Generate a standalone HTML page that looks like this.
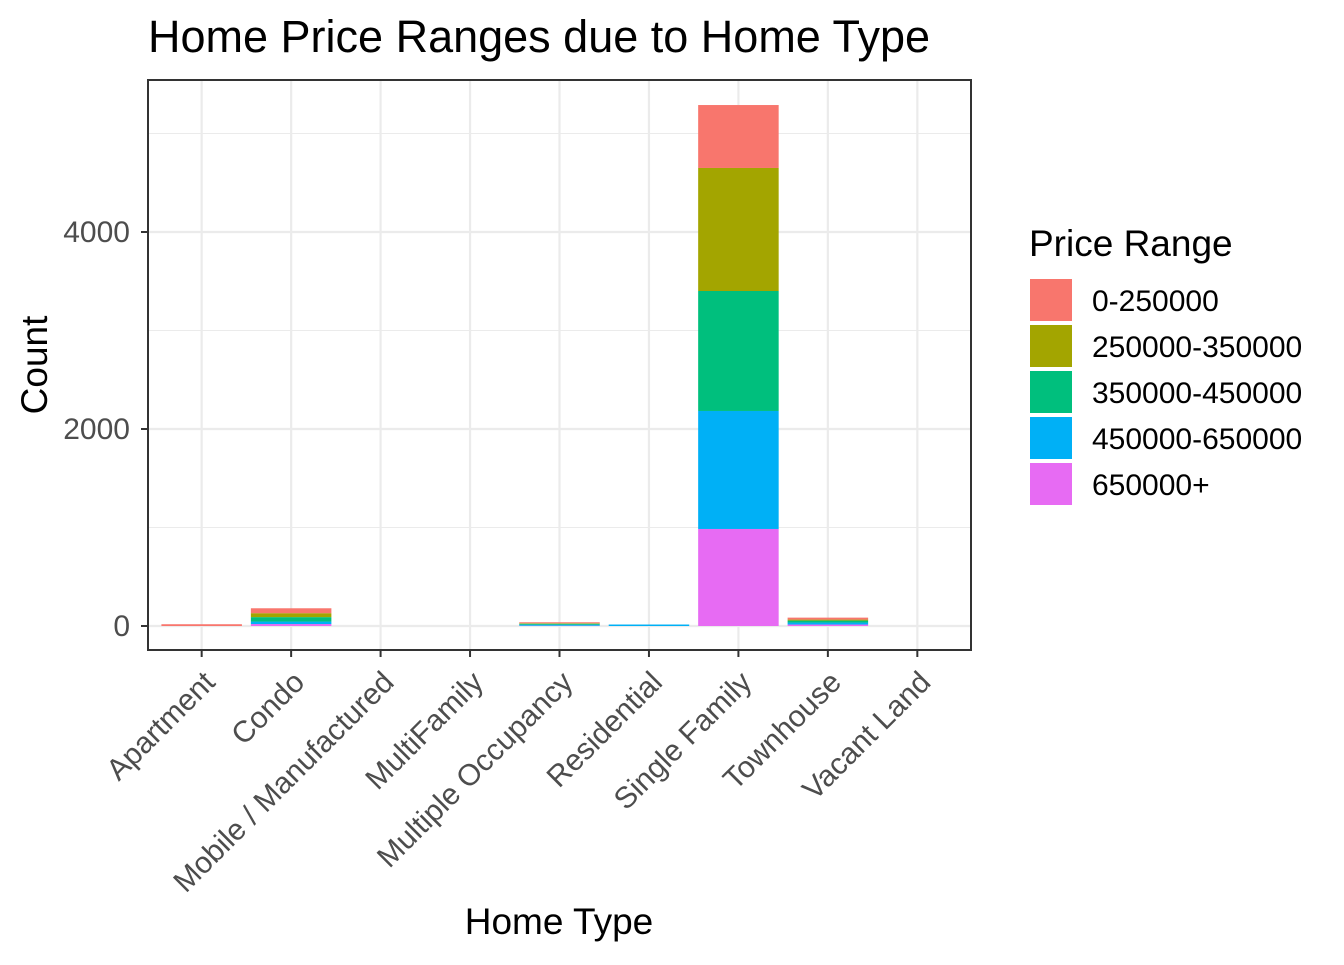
<!DOCTYPE html>
<html><head><meta charset="utf-8"><style>
body{margin:0;background:#fff;}
svg text{font-family:"Liberation Sans",Arial,sans-serif;}
</style></head><body>
<svg id="chart" width="1344" height="960" xmlns="http://www.w3.org/2000/svg">
<text x="148" y="52" font-size="45" fill="#000">Home Price Ranges due to Home Type</text>
<g id="grid"></g><g id="bars"></g><g id="axes"></g><g id="legend"></g>
</svg>
<script>
const categories=["Apartment","Condo","Mobile / Manufactured","MultiFamily","Multiple Occupancy","Residential","Single Family","Townhouse","Vacant Land"];
const seriesNames=["0-250000","250000-350000","350000-450000","450000-650000","650000+"];
const s0=[18,50,0,0,10,0,639,20,0];
const s1=[0,40,0,0,5,0,1249,10,0];
const s2=[0,45,0,0,10,0,1218,20,0];
const s3=[0,25,0,0,10,15,1198,20,0];
const s4=[0,20,0,0,3,0,985,15,0];
const yTicks=[0,2000,4000];
const colors=["#F8766D","#A3A500","#00BF7D","#00B0F6","#E76BF3"];
const series=[s0,s1,s2,s3,s4];
const NS="http://www.w3.org/2000/svg";
const L=148,R=971,T=80,B=650;
const y=v=>626-v*0.0985;
const step=(R-L)/(categories.length+0.2);
const x=i=>L+step*(0.6+i);
function mk(t,a,p){const e=document.createElementNS(NS,t);for(const k in a)e.setAttribute(k,a[k]);p.appendChild(e);return e;}
const g=document.getElementById('grid'),bg=document.getElementById('bars'),ax=document.getElementById('axes'),lg=document.getElementById('legend');
mk('rect',{x:L,y:T,width:R-L,height:B-T,fill:'#fff'},g);
mk('line',{x1:L,x2:R,y1:y(5000),y2:y(5000),stroke:'#EBEBEB','stroke-width':1.1},g);
for(let k=0;k<yTicks.length;k++){const v=yTicks[k];
 const l=mk('line',{x1:L,x2:R,y1:y(v),y2:y(v),stroke:'#EBEBEB','stroke-width':2.2},g);
 
 
 if(k<yTicks.length-1){const m=mk('line',{x1:L,x2:R,y1:y(v+1000),y2:y(v+1000),stroke:'#EBEBEB','stroke-width':1.1},g);
  
  }
 const t=mk('text',{x:130,y:y(v)+10,'font-size':30,'text-anchor':'end',fill:'#4D4D4D'},ax);t.textContent=v;
 
 
 mk('line',{x1:141,x2:L,y1:y(v),y2:y(v),stroke:'#333','stroke-width':2},ax);
}
categories.forEach((c,i)=>{
 const l=mk('line',{x1:x(i),x2:x(i),y1:T,y2:B,stroke:'#EBEBEB','stroke-width':2.2},g);
 
 
 let cum=0;const w=step*0.9;
 for(let s=series.length-1;s>=0;s--){const v=series[s][i];if(v<=0)continue;
  const r=mk('rect',{x:x(i)-w/2,y:y(cum+v),width:w,height:y(cum)-y(cum+v),fill:colors[s]},bg);
  
  
  cum+=v;}
 mk('line',{x1:x(i),x2:x(i),y1:B,y2:B+7,stroke:'#333','stroke-width':2},ax);
 const t=mk('text',{x:0,y:0,'font-size':30,'text-anchor':'end',fill:'#4D4D4D',transform:`translate(${x(i)+15},${B+34}) rotate(-45)`},ax);t.textContent=c;
 
 
});
const fr=mk('rect',{x:L,y:T,width:R-L,height:B-T,fill:'none',stroke:'#333','stroke-width':2},ax);


const xt=mk('text',{x:559,y:934,'font-size':37,'text-anchor':'middle'},ax);xt.textContent='Home Type';


const yt=mk('text',{x:0,y:0,'font-size':37,'text-anchor':'middle',transform:'translate(47,365) rotate(-90)'},ax);yt.textContent='Count';


const lt=mk('text',{x:1029,y:256,'font-size':37},lg);lt.textContent='Price Range';


seriesNames.forEach((n,k)=>{
 const r=mk('rect',{x:1030,y:279+k*46,width:42,height:42,fill:colors[k]},lg);
 
 
 const t=mk('text',{x:1092,y:311+k*46,'font-size':30},lg);t.textContent=n;
 
 
});
</script>
</body></html>
